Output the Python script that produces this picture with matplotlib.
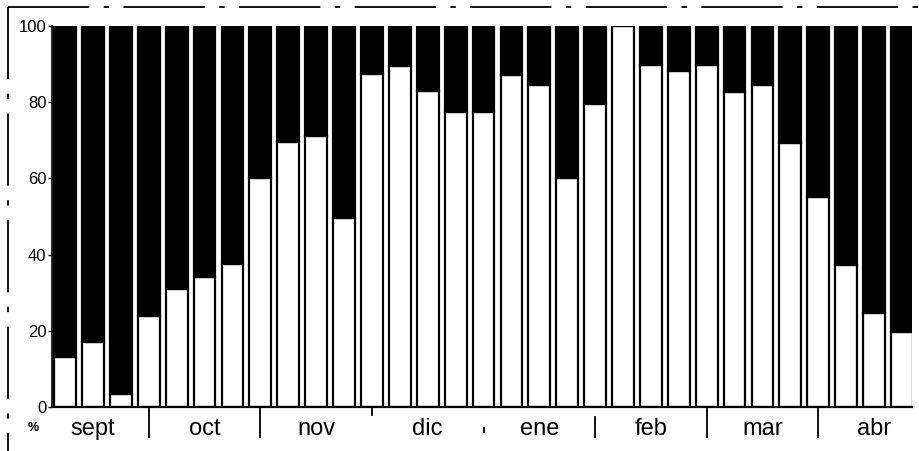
import matplotlib.pyplot as plt
from matplotlib.lines import Line2D

########  data  ########

months = ["sept", "oct", "nov", "dic", "ene", "feb", "mar", "abr"]
# white (lower) part of each bar, %; black part fills up to 100
white_pct = [13, 17, 3.3, 24, 31, 34, 37.5, 60,
             69.5, 71, 49.7, 87.3, 89.4, 83, 77.5, 77.5,
             87.1, 84.5, 60, 79.6, 100, 89.8, 88.3, 89.8,
             82.6, 84.5, 69.2, 55, 37.2, 24.8, 19.8]
black_pct = [100 - v for v in white_pct]
yticks = [0, 20, 40, 60, 80, 100]

plt.rcParams["font.family"] = ["Liberation Sans", "DejaVu Sans"]

fig = plt.figure(figsize=(9.2, 4.51), dpi=100)
ax = fig.add_axes([52 / 920, 44 / 451, 860 / 920, 381 / 451])

x = list(range(len(white_pct)))
ax.bar(x, white_pct, width=0.78, color="white", edgecolor="black", linewidth=1.6)
ax.bar(x, black_pct, bottom=white_pct, width=0.78, color="black",
       edgecolor="black", linewidth=1.6)

ax.set_xlim(-0.47, 30.36)
ax.set_ylim(0, 100)
ax.set_yticks(yticks)
ax.set_yticklabels([str(t) for t in yticks], fontsize=12)
ax.tick_params(axis="y", direction="out", length=3, width=1, pad=1)
ax.set_xticks([])
for s in ["top", "right"]:
    ax.spines[s].set_visible(False)
ax.spines["left"].set_linewidth(1.2)
ax.spines["bottom"].set_linewidth(1.6)

# month labels, 4 bars per month
for k, m in enumerate(months):
    ax.text(4 * k + 1, -5.8, m, ha="center", va="center", fontsize=17)

# month separators under the axis
seps = [(3, -0.3, -8), (7, -0.3, -8), (11, -0.3, -2), (15, -5.5, -6.5),
        (19, -2.5, -8), (23, -0.3, -8), (27, -0.3, -8)]
for xs, y0, y1 in seps:
    ax.plot([xs, xs], [y0, y1], color="black", lw=1.3, clip_on=False)

fig.text(33 / 920, 1 - 428 / 451, "%", fontsize=9, fontweight="bold",
         ha="center", va="center")

# scanned frame around the figure
fig.add_artist(Line2D([8 / 920, 1], [1 - 7 / 451] * 2, color="black", lw=1.3,
                      linestyle=(0, (45, 8, 3, 8))))
fig.add_artist(Line2D([8 / 920] * 2, [1 - 7 / 451, 0], color="black", lw=1.3,
                      linestyle=(0, (40, 8, 3, 8))))

plt.savefig("out.png", dpi=100)
plt.close()
